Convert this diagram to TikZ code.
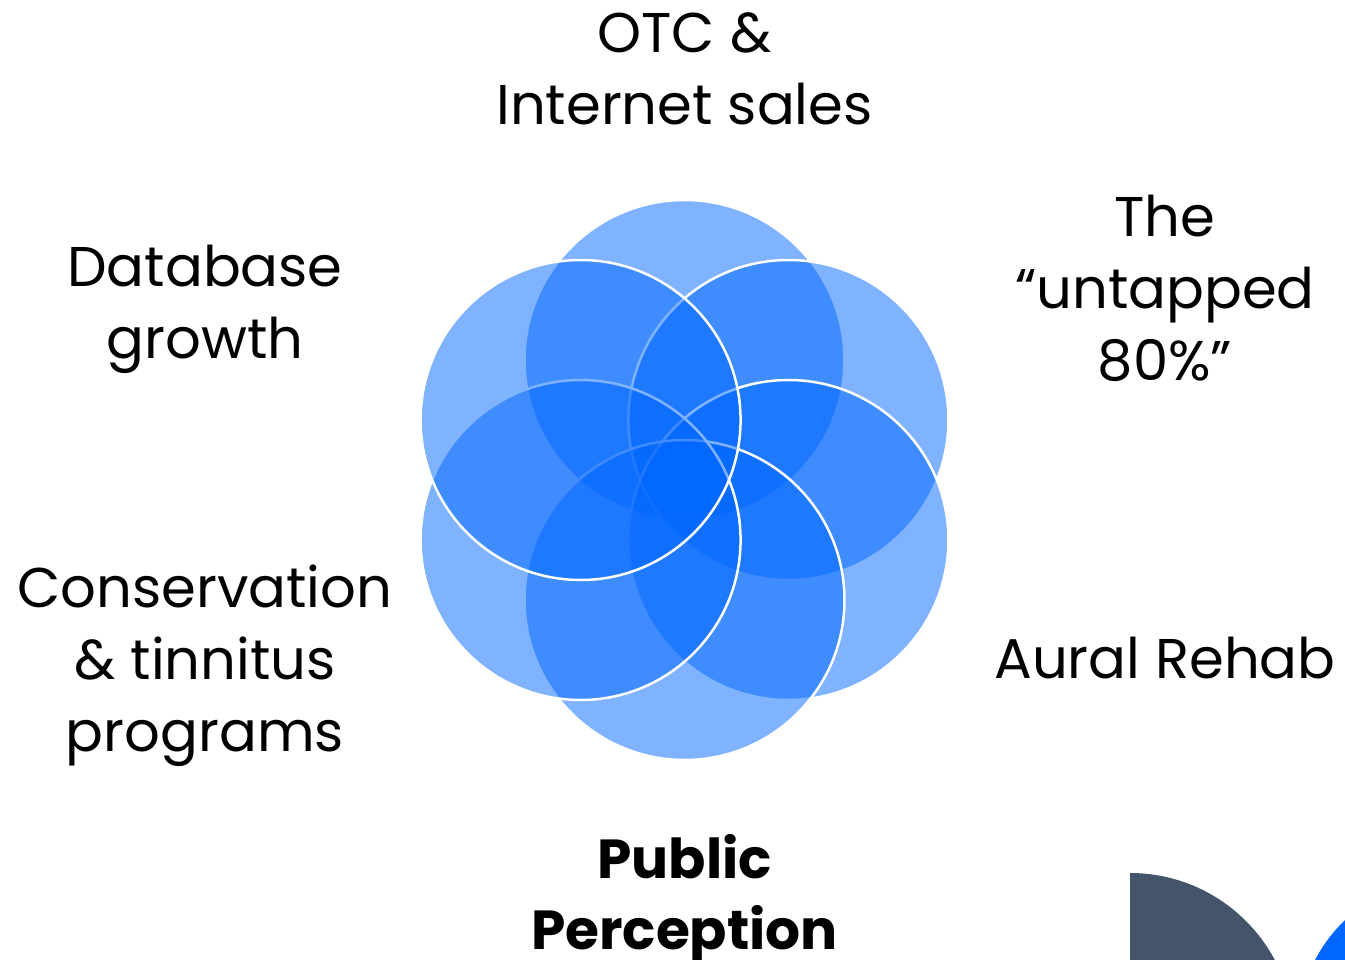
\documentclass[tikz,border=0pt]{standalone}
\usepackage{fontspec}
\setmainfont{Poppins}
\definecolor{petalblue}{HTML}{0066FF}
\definecolor{slate}{HTML}{44546A}
\begin{document}
\begin{tikzpicture}[x=1pt,y=-1pt,
    petal/.style={fill=petalblue,fill opacity=0.5,draw=white,line width=2.5pt},
    petaltext/.style={anchor=north,align=center,inner sep=0pt,font=\fontsize{56}{72}\selectfont}]
            %fix the page size
            \useasboundingbox (0,0) rectangle (1345,960);
            \clip (0,0) rectangle (1345,960);
            \coordinate (mid) at (684.5,480);
            %draw the six petals, clockwise from the top
            \foreach \a in {-90,-30,30,90,150,210}
            \draw[petal] (mid) ++(\a:120) circle [radius=160];
            %labels round the flower
            \node[petaltext] (otc) at (684.5,12) {OTC \&\\Internet sales};
            \node[petaltext] (untapped) at (1165,195) {The\\“untapped\\80\%”};
            \node[petaltext] (database) at (205,245) {Database\\growth};
            \node[petaltext] (conservation) at (205,565) {Conservation\\\& tinnitus\\programs};
            \node[petaltext] (aural) at (1165,637) {Aural Rehab};
            \node[petaltext,font=\fontsize{55}{71}\selectfont\bfseries] (public) at (684.5,834) {Public\\Perception};
            %corner shapes
            \fill[slate] (1130,1037) -- (1130,873) arc [start angle=-90, end angle=0, radius=164] -- cycle;
            \fill[petalblue] (1450,1030) circle [radius=152];
\end{tikzpicture}
\end{document}
